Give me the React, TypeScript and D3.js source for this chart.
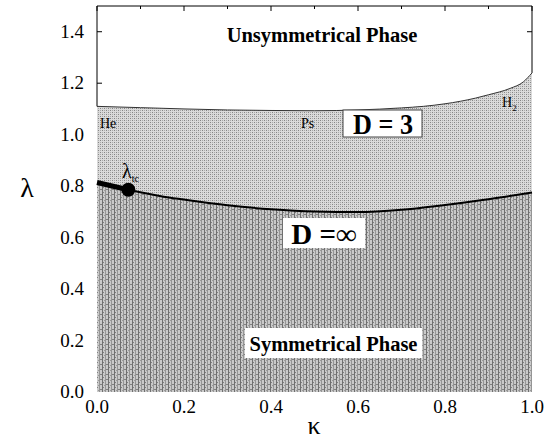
import React from "react";
import * as d3 from "d3";

// phase boundaries
const d3Kappa = [0, 0.1, 0.2, 0.3, 0.4, 0.5, 0.6, 0.7, 0.75, 0.8, 0.87, 0.9, 0.95, 0.98, 1.0];
const d3Lambda = [1.11, 1.105, 1.1, 1.096, 1.094, 1.093, 1.096, 1.104, 1.11, 1.12, 1.142, 1.155, 1.18, 1.205, 1.24];

const dInfKappa = [0, 0.072, 0.15, 0.2, 0.3, 0.4, 0.5, 0.6, 0.7, 0.8, 0.9, 1.0];
const dInfLambda = [0.814, 0.786, 0.76, 0.748, 0.726, 0.71, 0.701, 0.699, 0.708, 0.727, 0.749, 0.775];

const tcKappa = 0.072;
const tcLambda = 0.786;

const xTicks = [0, 0.2, 0.4, 0.6, 0.8, 1.0];
const yTicks = [0, 0.2, 0.4, 0.6, 0.8, 1.0, 1.2, 1.4];

const W = 553;
const H = 447;
const margin = { left: 97, right: 21, top: 6, bottom: 55 };

const serif = { fontFamily: "Liberation Serif, Tinos, DejaVu Serif, serif" };

export default function App() {
  const x = d3.scaleLinear().domain([0, 1]).range([margin.left, W - margin.right]);
  const y = d3.scaleLinear().domain([0, 1.5]).range([H - margin.bottom, margin.top]);

  const d3Pts: [number, number][] = d3Kappa.map((k, i) => [k, d3Lambda[i]]);
  const infPts: [number, number][] = dInfKappa.map((k, i) => [k, dInfLambda[i]]);

  const area = d3
    .area<[number, number]>()
    .x((d) => x(d[0]))
    .y0(y(0))
    .y1((d) => y(d[1]))
    .curve(d3.curveMonotoneX);
  const line = d3
    .line<[number, number]>()
    .x((d) => x(d[0]))
    .y((d) => y(d[1]))
    .curve(d3.curveMonotoneX);

  const thickPts = infPts.filter((d) => d[0] <= tcKappa);
  const thinPts = infPts.filter((d) => d[0] >= tcKappa);

  // frame of the white (unsymmetrical) region
  const frame =
    `M${x(0)},${y(d3Lambda[0])} L${x(0)},${y(1.5)} L${x(1)},${y(1.5)} L${x(1)},${y(d3Lambda[d3Lambda.length - 1])}`;

  const minorX = d3.range(0, 1.001, 0.1);

  return (
    <svg
      width={W}
      height={H}
      style={{ position: "absolute", left: 0, top: 0, background: "#fff" }}
    >
      <defs>
        <pattern id="lightTex" width="4" height="4" patternUnits="userSpaceOnUse">
          <rect width="4" height="4" fill="#dadada" />
          <rect x="0" y="0" width="1" height="1" fill="#858585" />
          <rect x="2" y="2" width="1" height="1" fill="#858585" />
          <rect x="2" y="0" width="1" height="1" fill="#aaa" />
          <rect x="0" y="2" width="1" height="1" fill="#aaa" />
        </pattern>
        <pattern id="darkTex" width="6" height="5" patternUnits="userSpaceOnUse">
          <rect width="6" height="5" fill="#cacaca" />
          <rect x="0" y="0" width="1" height="5" fill="#707070" />
          <rect x="3" y="0" width="1" height="5" fill="#959595" />
          <rect x="1" y="2" width="1" height="1" fill="#808080" />
          <rect x="4" y="4" width="2" height="1" fill="#808080" />
          <rect x="2" y="0" width="1" height="1" fill="#999" />
        </pattern>
      </defs>

      {/* shaded regions */}
      <path d={area(d3Pts) ?? ""} fill="url(#lightTex)" />
      <path d={area(infPts) ?? ""} fill="url(#darkTex)" />

      {/* D = 3 boundary */}
      <path d={line(d3Pts) ?? ""} fill="none" stroke="#333" strokeWidth={1} />
      <path d={frame} fill="none" stroke="#000" strokeWidth={1} />

      {/* inward ticks on white frame */}
      {yTicks
        .filter((t) => t > d3Lambda[0])
        .map((t) => (
          <line key={"yl" + t} x1={x(0)} x2={x(0) + 5} y1={y(t)} y2={y(t)} stroke="#000" />
        ))}
      {yTicks
        .filter((t) => t > d3Lambda[d3Lambda.length - 1])
        .map((t) => (
          <line key={"yr" + t} x1={x(1)} x2={x(1) - 5} y1={y(t)} y2={y(t)} stroke="#000" />
        ))}
      {minorX.map((t, i) => (
        <line
          key={"xt" + i}
          x1={x(t)}
          x2={x(t)}
          y1={y(1.5)}
          y2={y(1.5) + (i % 2 === 0 ? 5 : 3)}
          stroke="#000"
        />
      ))}

      {/* D = infinity boundary */}
      <path d={line(thinPts) ?? ""} fill="none" stroke="#000" strokeWidth={2} />
      <path d={line(thickPts) ?? ""} fill="none" stroke="#000" strokeWidth={5} />
      <circle cx={x(tcKappa)} cy={y(tcLambda)} r={7} fill="#000" />

      <g style={serif}>
        {/* tick labels */}
        {xTicks.map((t) => (
          <text key={"xl" + t} x={x(t)} y={413} fontSize={19} textAnchor="middle">
            {t.toFixed(1)}
          </text>
        ))}
        {yTicks.map((t) => (
          <text key={"ylb" + t} x={84} y={y(t) + 6} fontSize={19} textAnchor="end">
            {t.toFixed(1)}
          </text>
        ))}

        {/* axis titles */}
        <text x={27} y={197} fontSize={28} textAnchor="middle">λ</text>
        <text x={314} y={434} fontSize={26} textAnchor="middle">κ</text>

        {/* annotations */}
        <text x={322} y={42} fontSize={20.5} fontWeight="bold" textAnchor="middle">
          Unsymmetrical Phase
        </text>
        <text x={100} y={128} fontSize={14}>He</text>
        <text x={301} y={128} fontSize={14}>Ps</text>
        <text x={502} y={107} fontSize={14}>
          H<tspan fontSize={9} dy={4}>2</tspan>
        </text>
        <text x={122} y={178} fontSize={20}>
          λ<tspan fontSize={10} dy={4}>tc</tspan>
        </text>

        <rect x={343} y={110} width={79} height={27} fill="#fff" stroke="#444" strokeWidth={1} />
        <text
          x={353}
          y={134}
          fontSize={29}
          fontWeight="bold"
          textLength={60}
          lengthAdjust="spacingAndGlyphs"
        >
          D = 3
        </text>

        <rect x={283} y={218} width={82} height={30} fill="#fff" />
        <text x={324} y={244} fontSize={29} fontWeight="bold" textAnchor="middle">
          D =∞
        </text>

        <rect x={245} y={328} width={177} height={30} fill="#fff" />
        <text x={333.5} y={351} fontSize={20.5} fontWeight="bold" textAnchor="middle">
          Symmetrical Phase
        </text>
      </g>
    </svg>
  );
}
